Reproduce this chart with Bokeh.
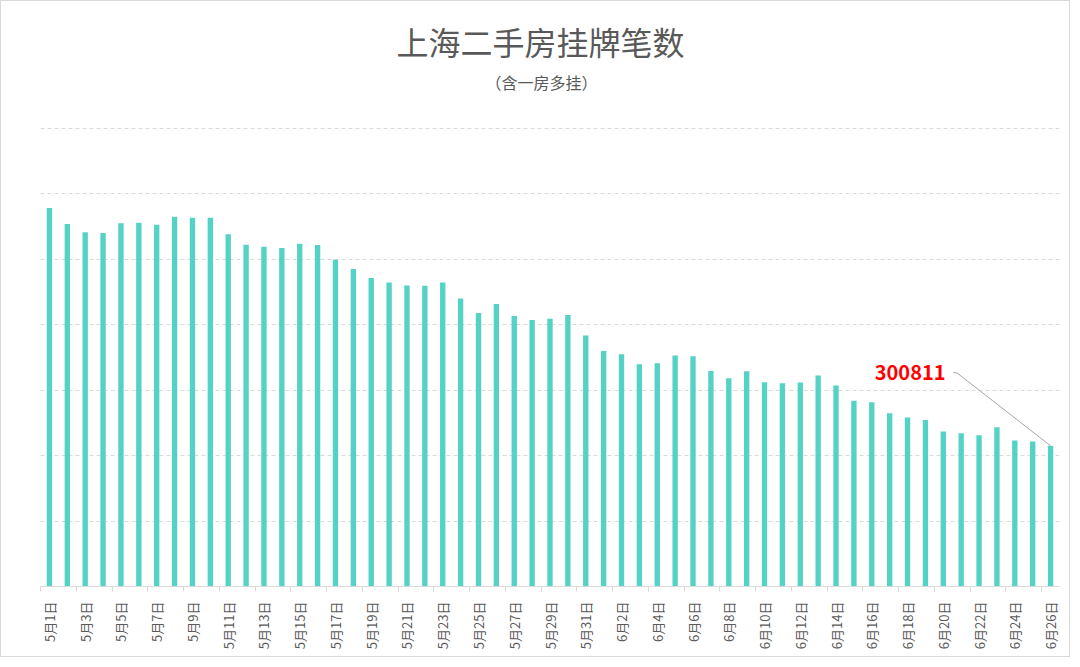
import math
from bokeh.plotting import figure
from bokeh.models import Range1d, FixedTicker, Label, ColumnDataSource
from bokeh.embed import file_html
from bokeh.resources import INLINE

title_text = "上海二手房挂牌笔数"
subtitle_text = "（含一房多挂）"

dates = [
    "5月1日", "5月2日", "5月3日", "5月4日", "5月5日", "5月6日", "5月7日", "5月8日",
    "5月9日", "5月10日", "5月11日", "5月12日", "5月13日", "5月14日", "5月15日",
    "5月16日", "5月17日", "5月18日", "5月19日", "5月20日", "5月21日", "5月22日",
    "5月23日", "5月24日", "5月25日", "5月26日", "5月27日", "5月28日", "5月29日",
    "5月30日", "5月31日", "6月1日", "6月2日", "6月3日", "6月4日", "6月5日", "6月6日",
    "6月7日", "6月8日", "6月9日", "6月10日", "6月11日", "6月12日", "6月13日",
    "6月14日", "6月15日", "6月16日", "6月17日", "6月18日", "6月19日", "6月20日",
    "6月21日", "6月22日", "6月23日", "6月24日", "6月25日", "6月26日",
]

listings = [
    809400, 775200, 757300, 756000, 776500, 778000, 773700, 790800, 788700, 788500,
    753000, 731000, 726700, 723900, 733100, 730300, 698900, 679000, 659800, 649800,
    643400, 643000, 650200, 615600, 585000, 604200, 578600, 570000, 572800, 580700,
    536500, 503800, 496500, 475100, 477300, 493700, 492300, 461000, 445200, 460500,
    436700, 434500, 436000, 451000, 429600, 397100, 393900, 370200, 361600, 356300,
    331700, 327500, 323200, 340300, 312100, 309900, 300811,
]

label_every = 2
grid_interval = 140000
grid_count = 7
grid_max = grid_interval * grid_count

BAR_COLOR = "#55D2C6"
TEXT_COLOR = "#595959"
LINE_GRAY = "#d9d9d9"
CJK = "Noto Sans CJK SC"

W, H = 1070, 657
ML, MR, MT, MB = 39, 12, 0, 72
frame_w = W - ML - MR
frame_h = H - MT - MB
grid_span_px = 458.3          # pixel height from baseline to top gridline
y_end = grid_max * frame_h / grid_span_px

n = len(dates)
xs = list(range(n))
src = ColumnDataSource(data=dict(x=xs, top=listings, date=dates))

p = figure(
    width=W, height=H, output_backend="svg", toolbar_location=None,
    x_range=Range1d(-0.5, n - 0.5), y_range=Range1d(0, y_end),
    min_border_left=ML, min_border_right=MR, min_border_top=MT, min_border_bottom=MB,
)
p.styles = {"border": "1px solid #d9d9d9"}
p.outline_line_color = None
p.background_fill_color = "white"
p.border_fill_color = "white"

p.vbar(x="x", top="top", bottom=0, width=0.3, source=src,
       fill_color=BAR_COLOR, line_color=None)

# axes / grid
p.yaxis.visible = False
p.xgrid.visible = False
p.ygrid.ticker = FixedTicker(ticks=[grid_interval * k for k in range(1, grid_count + 1)])
p.ygrid.grid_line_color = LINE_GRAY
p.ygrid.grid_line_dash = "4 3"
p.ygrid.grid_line_width = 1

ax = p.xaxis[0]
major = xs[::label_every]
minor = [t - 0.5 for t in major]
ax.ticker = FixedTicker(ticks=major, minor_ticks=minor)
ax.major_label_overrides = {i: dates[i] for i in major}
ax.major_label_orientation = math.pi / 2
ax.major_label_text_font = CJK
ax.major_label_text_font_size = "13px"
ax.major_label_text_color = TEXT_COLOR
ax.major_label_standoff = 10
ax.major_tick_in = 0
ax.major_tick_out = 0
ax.minor_tick_in = 0
ax.minor_tick_out = 5
ax.minor_tick_line_color = LINE_GRAY
ax.axis_line_color = LINE_GRAY
ax.axis_line_width = 1

# titles: x in screen px from frame left, y anchored at baseline with pixel offset
p.add_layout(Label(x=500, y=0, x_units="screen", y_units="data", y_offset=546,
                   text=title_text, text_align="center", text_baseline="middle",
                   text_font=CJK, text_font_size="32px", text_color=TEXT_COLOR))
p.add_layout(Label(x=501, y=0, x_units="screen", y_units="data", y_offset=504.5,
                   text=subtitle_text, text_align="center", text_baseline="middle",
                   text_font=CJK, text_font_size="16px", text_color=TEXT_COLOR))

# callout for the last value
ux = n / frame_w
uy = y_end / frame_h
last_i = n - 1
last_v = listings[-1]
p.line([last_i - 97.3 * ux, last_i - 93.3 * ux, last_i],
       [last_v + 73.3 * uy, last_v + 72.7 * uy, last_v],
       line_color="#a6a6a6", line_width=1)
p.add_layout(Label(x=last_i, y=last_v, x_offset=-105, y_offset=73.5, text=str(last_v),
                   text_align="right", text_baseline="middle", text_font=CJK,
                   text_font_style="bold", text_font_size="20px", text_color="#FF0000"))

open("out.html", "w").write(file_html(p, INLINE))
